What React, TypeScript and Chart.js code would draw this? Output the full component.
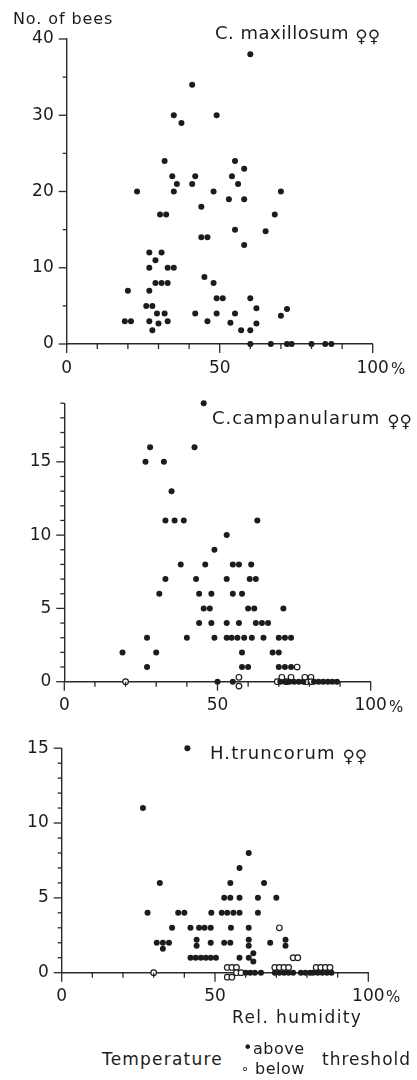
import React, { useEffect, useRef } from 'react';
import { Chart, registerables } from 'chart.js';

Chart.register(...registerables);

const FONT = '"DejaVu Sans", "Liberation Sans", sans-serif';
const INK = '#1c1c1c';
const AXIS = '#2a2a2a';

// ---------- data (relative humidity %, number of bees) ----------
// Panel 1: C. maxillosum
const maxillosumAbove: [number, number][] = [
  [60, 38], [41, 34], [35, 30], [37.5, 29], [49, 30], [32, 24], [55, 24], [58, 23],
  [34.5, 22], [42, 22], [54, 22], [36, 21], [41, 21], [56, 21], [23, 20], [35, 20],
  [48, 20], [70, 20], [53, 19], [58, 19], [44, 18], [30.5, 17], [32.5, 17], [68, 17],
  [55, 15], [65, 14.8], [44, 14], [46, 14], [58, 13], [27, 12], [31, 12], [29, 11],
  [27, 10], [33, 10], [35, 10], [45, 8.8], [29, 8], [31, 8], [33, 8], [48, 8],
  [20, 7], [27, 7], [49, 6], [51, 6], [60, 6], [26, 5], [28, 5], [62, 4.7], [72, 4.6],
  [29.5, 4], [32, 4], [42, 4], [49, 4], [55, 4], [70, 3.7], [19, 3], [21, 3], [27, 3],
  [33, 3], [30, 2.7], [46, 3], [53.5, 2.8], [62, 2.7], [28, 1.8], [57, 1.8], [60, 1.8],
  [60, 0], [66.7, 0], [72, 0], [73.5, 0], [80, 0], [84.5, 0], [86.5, 0],
];
const maxillosumBelow: [number, number][] = [];

// Panel 2: C. campanularum
const campanularumAbove: [number, number][] = [
  [45.5, 19], [28, 16], [42.5, 16], [26.5, 15], [32.5, 15], [35, 13], [33, 11], [36, 11],
  [39, 11], [63, 11], [53, 10], [49, 9], [38, 8], [46, 8], [55, 8], [57, 8], [61, 8],
  [33, 7], [43, 7], [53, 7], [60.5, 7], [62.5, 7], [31, 6], [44, 6], [48, 6], [55, 6],
  [58, 6], [45.5, 5], [47.5, 5], [60, 5], [62, 5], [71.5, 5], [44, 4], [48, 4], [53, 4],
  [57, 4], [62.5, 4], [64.5, 4], [66.5, 4], [27, 3], [40, 3], [49, 3], [53, 3], [54.6, 3],
  [56.5, 3], [58.7, 3], [61.2, 3], [65, 3], [70, 3], [72, 3], [74, 3], [19, 2], [30, 2],
  [58, 2], [68, 2], [70, 2], [27, 1], [58, 1], [60, 1], [70, 1], [72, 1], [74, 1],
  [50, 0], [55, 0], [70.5, 0], [72, 0], [73.5, 0], [75, 0], [76.5, 0], [78, 0], [81.5, 0],
  [83, 0], [84.5, 0], [86, 0], [87.5, 0], [89, 0],
];
const campanularumBelow: [number, number][] = [
  [76, 1], [20, 0], [57, 0.3], [57, -0.3], [69.5, 0], [71, 0.3], [72.5, 0], [74, 0.3],
  [79, 0], [78.5, 0.3], [80.5, 0.3], [80.5, 0],
];

// Panel 3: H. truncorum
const truncorumAbove: [number, number][] = [
  [41, 15], [26.5, 11], [61, 8], [58, 7], [32, 6], [55, 6], [66, 6], [53, 5], [55, 5],
  [58, 5], [64, 5], [70, 5], [28, 4], [38, 4], [40, 4], [48.8, 4], [52.2, 4], [54, 4],
  [56, 4], [58, 4], [64, 4], [36, 3], [42, 3], [44.8, 3], [46.6, 3], [48.6, 3], [55.2, 3],
  [61, 3], [31, 2], [33, 2], [35, 2], [33, 1.6], [44, 2.2], [44, 1.8], [48.6, 2], [53, 2],
  [55, 2], [61, 2.2], [61, 1.8], [68, 2], [73, 2.2], [73, 1.8], [42, 1], [43.7, 1],
  [45.4, 1], [47, 1], [48.6, 1], [50.3, 1], [58, 1], [61, 1], [62.5, 1.3], [62.5, 0.75],
  [60, 0], [61.5, 0], [63, 0], [65, 0], [69.5, 0], [71, 0], [72.5, 0], [74, 0], [75.5, 0],
  [69.5, -0.3], [72, -0.3], [74.5, -0.3], [78, 0], [79.5, 0], [81, 0], [82, 0], [83.5, 0],
  [85, 0], [86.5, 0], [88, 0],
];
const truncorumBelow: [number, number][] = [
  [71, 3], [75.5, 1], [77, 1], [30, 0], [54, 0.35], [55.5, 0.35], [57, 0.35], [54, -0.3],
  [55.5, -0.3], [57, 0], [58.5, 0], [69.5, 0.35], [71, 0.35], [72.5, 0.35], [74, 0.35],
  [83, 0.35], [84.5, 0.35], [86, 0.35], [87.5, 0.35],
];

const xTickLabels = [0, 50, 100];

// ---------- tick-mark plugin (uses chart scales) ----------
const tickPlugin = {
  id: 'manualTicks',
  afterDraw(chart: any, _args: any, opts: any) {
    const { ctx, chartArea: area } = chart;
    const xs = chart.scales.x;
    const ys = chart.scales.y;
    ctx.save();
    ctx.strokeStyle = AXIS;
    ctx.lineWidth = 1.3;
    for (let v = 0; v <= 100; v += 10) {
      const px = xs.getPixelForValue(v);
      const len = v % 50 === 0 ? 9 : 5;
      ctx.beginPath();
      ctx.moveTo(px, area.bottom);
      ctx.lineTo(px, area.bottom + len);
      ctx.stroke();
    }
    for (let v = 0; v <= opts.yMax + 1e-6; v += opts.yMinor) {
      const py = ys.getPixelForValue(v);
      const len = Math.abs(v % opts.yMajor) < 1e-6 ? 8 : 4;
      ctx.beginPath();
      ctx.moveTo(area.left, py);
      ctx.lineTo(area.left - len, py);
      ctx.stroke();
    }
    ctx.restore();
  },
};

type PanelProps = {
  top: number;
  height: number;
  left: number;
  right: number;
  plotTop: number;
  plotBottom: number;
  yMax: number;
  yMajor: number;
  yMinor: number;
  above: [number, number][];
  below: [number, number][];
};

function Panel(p: PanelProps) {
  const ref = useRef<HTMLCanvasElement>(null);
  useEffect(() => {
    if (!ref.current) return;
    const chart = new Chart(ref.current, {
      type: 'scatter',
      data: {
        datasets: [
          {
            label: 'above',
            data: p.above.map(([x, y]) => ({ x, y })),
            pointRadius: 3,
            pointBackgroundColor: INK,
            pointBorderWidth: 0,
            clip: false,
          } as any,
          {
            label: 'below',
            data: p.below.map(([x, y]) => ({ x, y })),
            pointRadius: 2.8,
            pointBackgroundColor: '#ffffff',
            pointBorderColor: INK,
            pointBorderWidth: 1.2,
            clip: false,
          } as any,
        ],
      },
      options: {
        responsive: false,
        animation: false,
        devicePixelRatio: 1,
        layout: { padding: { top: p.plotTop, right: 417 - p.right, left: 0, bottom: 0 } },
        plugins: {
          legend: { display: false },
          tooltip: { enabled: false },
          manualTicks: { yMax: p.yMax, yMajor: p.yMajor, yMinor: p.yMinor },
        } as any,
        scales: {
          x: {
            type: 'linear',
            min: 0,
            max: 100,
            afterBuildTicks: (s: any) => {
              s.ticks = xTickLabels.map((v) => ({ value: v }));
            },
            ticks: {
              padding: 14,
              color: INK,
              font: { family: FONT, size: 17 },
              maxRotation: 0,
            },
            grid: { display: true, drawOnChartArea: false, drawTicks: false, color: 'rgba(0,0,0,0)' },
            border: { display: true, color: AXIS, width: 1.4 },
            afterFit: (s: any) => {
              s.height = p.height - p.plotBottom;
            },
          },
          y: {
            type: 'linear',
            min: 0,
            max: p.yMax,
            ticks: {
              stepSize: p.yMajor,
              includeBounds: false,
              padding: 13,
              color: INK,
              font: { family: FONT, size: 17 },
            },
            grid: { display: true, drawOnChartArea: false, drawTicks: false, color: 'rgba(0,0,0,0)' },
            border: { display: true, color: AXIS, width: 1.4 },
            afterFit: (s: any) => {
              s.width = p.left;
            },
          },
        },
      },
      plugins: [tickPlugin as any],
    });
    return () => chart.destroy();
  }, []);
  return (
    <canvas
      ref={ref}
      width={417}
      height={p.height}
      style={{ position: 'absolute', left: 0, top: p.top, width: 417, height: p.height }}
    />
  );
}

const txt = (left: number, top: number, size: number, extra: React.CSSProperties = {}): React.CSSProperties => ({
  position: 'absolute',
  left,
  top,
  fontSize: size,
  lineHeight: 1,
  fontFamily: FONT,
  color: INK,
  whiteSpace: 'nowrap',
  ...extra,
});

const sym: React.CSSProperties = { fontSize: 17, position: 'relative', top: 3, letterSpacing: 0 };

export default function App() {
  return (
    <div style={{ position: 'absolute', left: 0, top: 0, width: 417, height: 1080, background: '#fff', overflow: 'hidden' }}>
      <Panel top={0} height={392} left={66.7} right={372.7} plotTop={39} plotBottom={344}
        yMax={40} yMajor={10} yMinor={5} above={maxillosumAbove} below={maxillosumBelow} />
      <Panel top={380} height={335} left={64.3} right={370.7} plotTop={10} plotBottom={301.7}
        yMax={19} yMajor={5} yMinor={1} above={campanularumAbove} below={campanularumBelow} />
      <Panel top={725} height={285} left={61.7} right={368.3} plotTop={17.7} plotBottom={247.7}
        yMax={15} yMajor={5} yMinor={1} above={truncorumAbove} below={truncorumBelow} />

      <div style={txt(13, 10.5, 16, { letterSpacing: 0.9 })}>No. of bees</div>
      <div style={txt(215, 24, 18, { letterSpacing: 0.5 })}>C. maxillosum <span style={sym}>♀♀</span></div>
      <div style={txt(212, 409, 18, { letterSpacing: 1.0 })}>C.campanularum <span style={sym}>♀♀</span></div>
      <div style={txt(210, 744, 18, { letterSpacing: 1.1 })}>H.truncorum <span style={sym}>♀♀</span></div>

      <div style={txt(391, 362, 15)}>%</div>
      <div style={txt(389, 700, 15)}>%</div>
      <div style={txt(386, 990, 15)}>%</div>

      <div style={txt(232, 1009, 17, { letterSpacing: 1.4 })}>Rel. humidity</div>
      <div style={txt(102, 1051, 17, { letterSpacing: 1.2 })}>Temperature</div>
      <div style={txt(243, 1040, 16)}>•</div>
      <div style={txt(253, 1041, 16, { letterSpacing: 0.5 })}>above</div>
      <div style={txt(241, 1062, 13)}>∘</div>
      <div style={txt(255, 1061, 16, { letterSpacing: 0.5 })}>below</div>
      <div style={txt(322, 1051, 17, { letterSpacing: 1 })}>threshold</div>
    </div>
  );
}
